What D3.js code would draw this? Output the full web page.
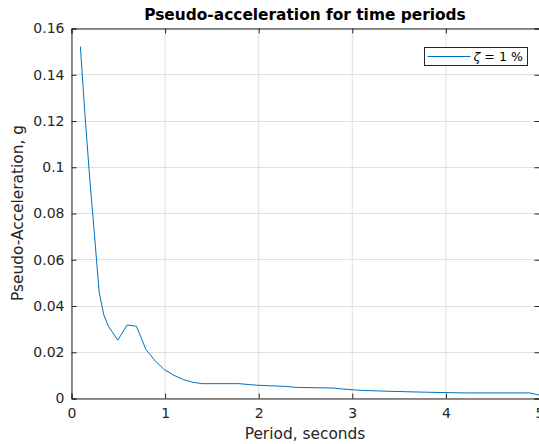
<!DOCTYPE html>
<html lang="en">
<head>
  <meta charset="UTF-8">
  <title>Pseudo-acceleration for time periods</title>
  <script src="https://d3js.org/d3.v7.min.js"></script>
  <style>
    body { margin: 0; background: #fff; }
    svg { display: block; font-family: "DejaVu Sans", sans-serif; }
    .tick text { fill: #262626; font-size: 14px; }
    .grid line { stroke: #dfdfdf; }
  </style>
</head>
<body>
  <svg width="539" height="444"></svg>

  <script>
    // periods (s) and pseudo-acceleration (g)
    const periods = [0.1, 0.15, 0.2, 0.25, 0.3, 0.35, 0.4, 0.5, 0.6, 0.7, 0.8, 0.9,
      1.0, 1.1, 1.2, 1.3, 1.4, 1.8, 1.9, 2.0, 2.3, 2.4, 2.8, 2.9, 3.1, 3.4, 3.8, 4.2, 4.9, 5.0];
    const accel = [0.152, 0.122, 0.095, 0.071, 0.046, 0.036, 0.031, 0.025, 0.0316, 0.031, 0.021, 0.016,
      0.0122, 0.0098, 0.008, 0.0068, 0.0062, 0.0062, 0.0058, 0.0055, 0.005, 0.0046, 0.0043, 0.0039,
      0.0033, 0.0029, 0.0025, 0.0022, 0.0022, 0.0013];
    const xTicks = [0, 1, 2, 3, 4, 5];
    const yTicks = [0, 0.02, 0.04, 0.06, 0.08, 0.1, 0.12, 0.14, 0.16];
    const legendLabel = "1 %";

    const svg = d3.select("svg");
    const margin = { top: 28, right: 0, bottom: 46, left: 71 };
    const width = +svg.attr("width") - margin.left - margin.right;
    const height = +svg.attr("height") - margin.top - margin.bottom;

    const chart = svg.append("g")
      .attr("transform", `translate(${margin.left},${margin.top})`);

    const x = d3.scaleLinear().domain([0, 5]).range([0, width]);
    const y = d3.scaleLinear().domain([0, 0.16]).range([height, 0]);

    // grid
    chart.append("g").attr("class", "grid")
      .selectAll("line").data(xTicks).join("line")
      .attr("x1", d => x(d) + 0.5).attr("x2", d => x(d) + 0.5)
      .attr("y1", 0).attr("y2", height);
    chart.append("g").attr("class", "grid")
      .selectAll("line").data(yTicks).join("line")
      .attr("x1", 0).attr("x2", width)
      .attr("y1", d => Math.round(y(d)) + 0.5).attr("y2", d => Math.round(y(d)) + 0.5);

    // line
    const pts = periods.map((p, i) => [p, accel[i]]);
    chart.append("path")
      .datum(pts)
      .attr("fill", "none")
      .attr("stroke", "#0072BD")
      .attr("stroke-width", 1)
      .attr("d", d3.line().x(d => x(d[0])).y(d => y(d[1])));

    // axes (ticks inward, box)
    chart.append("g")
      .attr("transform", `translate(0.5,${height + 0.5})`)
      .call(d3.axisBottom(x).tickValues(xTicks).tickSize(-5).tickPadding(10).tickFormat(d3.format("d")));
    chart.append("g")
      .attr("transform", "translate(0.5,0.5)")
      .call(d3.axisLeft(y).tickValues(yTicks).tickSize(-5).tickPadding(7).tickFormat(d => d === 0 ? "0" : String(+d.toFixed(2))));
    chart.append("g")
      .attr("transform", "translate(0.5,0.5)")
      .call(d3.axisTop(x).tickValues(xTicks).tickSize(-5).tickFormat(""));
    chart.append("g")
      .attr("transform", `translate(${width + 0.5},0.5)`)
      .call(d3.axisRight(y).tickValues(yTicks).tickSize(-5).tickFormat(""));
    chart.selectAll(".domain, .tick line").attr("stroke", "#262626");
    chart.selectAll(".tick text").attr("font-family", "DejaVu Sans").attr("font-size", 14);

    // title and labels
    svg.append("text")
      .attr("x", margin.left + width / 2).attr("y", 20)
      .attr("text-anchor", "middle")
      .attr("font-weight", "bold").attr("font-size", 15.4)
      .text("Pseudo-acceleration for time periods");
    svg.append("text")
      .attr("x", margin.left + width / 2).attr("y", 439)
      .attr("text-anchor", "middle").attr("fill", "#262626").attr("font-size", 15.4)
      .text("Period, seconds");
    svg.append("text")
      .attr("transform", `translate(23,${margin.top + height / 2}) rotate(-90)`)
      .attr("text-anchor", "middle").attr("fill", "#262626").attr("font-size", 15.4)
      .text("Pseudo-Acceleration, g");

    // legend
    const lg = svg.append("g").attr("transform", "translate(424.5,47.5)");
    lg.append("rect").attr("width", 103).attr("height", 18)
      .attr("fill", "#fff").attr("stroke", "#262626").attr("stroke-width", 1);
    lg.append("line").attr("x1", 3).attr("x2", 46).attr("y1", 9).attr("y2", 9)
      .attr("stroke", "#0072BD").attr("stroke-width", 1);
    const lt = lg.append("text").attr("x", 49).attr("y", 13.5)
      .attr("font-size", 12.6).attr("fill", "#000");
    lt.append("tspan").attr("font-style", "italic").text("ζ");
    lt.append("tspan").text(" = " + legendLabel);
  </script>
</body>
</html>
